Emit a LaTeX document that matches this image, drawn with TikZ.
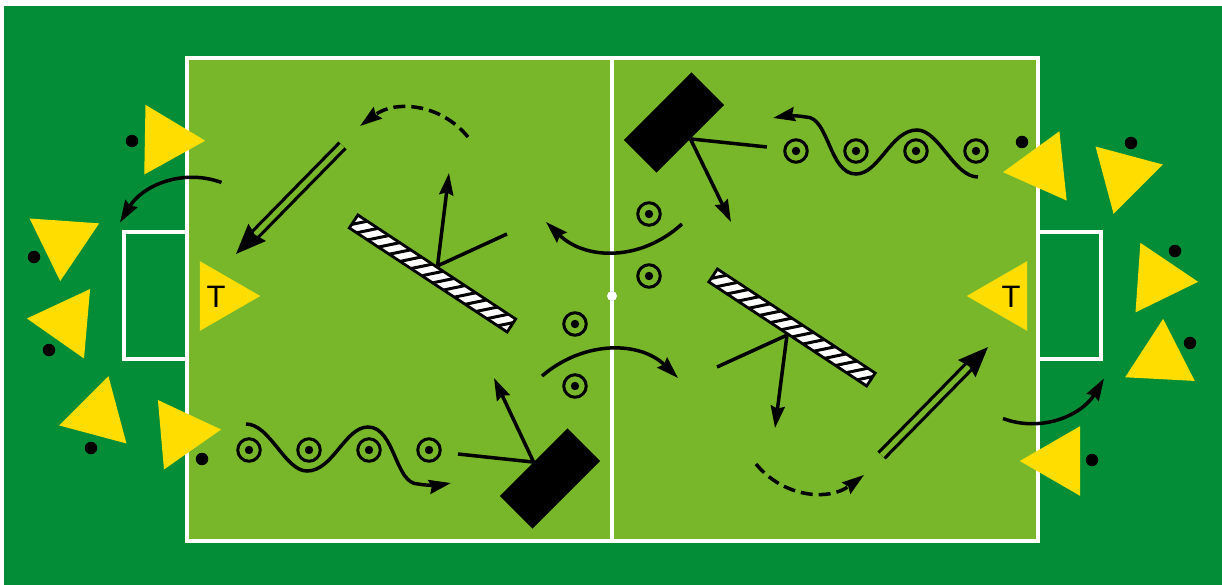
\documentclass[tikz,border=0pt]{standalone}
\usepackage{fontspec}
\setmainfont{Liberation Sans}
\usepackage{xcolor}
\usetikzlibrary{arrows.meta,positioning,shapes.geometric}

\definecolor{fieldout}{HTML}{038D37}
\definecolor{fieldin}{HTML}{78B72A}
\definecolor{shirt}{HTML}{FFDD00}

\begin{document}
\begin{tikzpicture}[
  x=1pt, y=-1pt,
  node distance=60pt, on grid,
  line/.style={white, line width=3.6pt},
  player/.style={regular polygon, regular polygon sides=3, fill=shirt,
                 inner sep=0pt, minimum size=80.5pt},
  dot/.style={circle, fill=black, inner sep=0pt, minimum size=12.5pt},
  ball/.style={circle, draw, line width=3pt, inner sep=0pt, minimum size=22.5pt,
               path picture={\fill (path picture bounding box.center) circle (4.2pt);}},
  wall/.style={rectangle, fill=black, inner sep=0pt, minimum width=95.5pt,
               minimum height=46pt, rotate=45},
  bar/.style={rectangle, draw, line width=2.8pt, fill=white, inner sep=0pt,
              minimum width=189pt, minimum height=15.5pt, rotate=-33.4,
              path picture={
                \foreach \i in {-104,-91,...,104}
                  \draw[black, line width=3pt] (\i-9,9) -- (\i+9,-9);
              }},
  arr/.style={-{Stealth[length=22pt,width=14pt,inset=2.5pt]}, line width=3.5pt},
  plain/.style={line width=3.5pt},
  darr/.style={arr, dash pattern=on 12pt off 6pt},
  dblarr/.style={-{Stealth[length=30pt,width=24pt,inset=3pt]}, line width=3.2pt,
                 double=fieldin, double distance=5pt},
]
  \useasboundingbox (0,0) rectangle (1222,585);

  % Field
  \fill[fieldout] (4,6) rectangle (1222,585);
  \fill[fieldin] (187,58) rectangle (1038,541);
  \draw[line] (187,58) rectangle (1038,541);
  \draw[line] (612,58) -- (612,541);
  \draw[line] (187,232) -- (124,232) -- (124,359) -- (187,359);
  \draw[line] (1038,232) -- (1101,232) -- (1101,359) -- (1038,359);
  \node[circle, fill=white, inner sep=0pt, minimum size=10pt] (mid) at (612,296) {};

  % Players left
  \node[player, shape border rotate=-91] (pa) at (165,140) {};
  \node[player, shape border rotate=-64] (pb) at (63,241) {};
  \node[player, shape border rotate=85] (pc) at (67,322) {};
  \node[player, shape border rotate=-15] (pd) at (98,415) {};
  \node[player, shape border rotate=-85] (pe) at (181,433) {};
  \node[player, shape border rotate=-90] (tl) at (220,296) {};
  \node[font=\fontsize{31}{31}\selectfont] (tltext) at (216,297) {T};

  % Players right
  \node[player, shape border rotate=96] (pf) at (1043,168) {};
  \node[player, shape border rotate=165] (pg) at (1124,175) {};
  \node[player, shape border rotate=-94] (ph) at (1158,279) {};
  \node[player, shape border rotate=-3] (pi) at (1161,359) {};
  \node[player, shape border rotate=90] (pj) at (1060,461) {};
  \node[player, shape border rotate=90] (tr) at (1007,296) {};
  \node[font=\fontsize{31}{31}\selectfont] (trtext) at (1011,297) {T};

  % Dots
  \node[dot] (da) at (132,141) {};
  \node[dot] (db) at (34,257) {};
  \node[dot] (dc) at (49,350) {};
  \node[dot] (dd) at (91,448) {};
  \node[dot] (de) at (202,459) {};
  \node[dot] (df) at (1022,142) {};
  \node[dot] (dg) at (1131,143) {};
  \node[dot] (dh) at (1175,251) {};
  \node[dot] (di) at (1190,343) {};
  \node[dot] (dj) at (1092,460) {};

  % Balls
  \node[ball] (b1) at (249,450) {};
  \node[ball, right=of b1] (b2) {};
  \node[ball, right=of b2] (b3) {};
  \node[ball, right=of b3] (b4) {};
  \node[ball] (b5) at (796,151) {};
  \node[ball, right=of b5] (b6) {};
  \node[ball, right=of b6] (b7) {};
  \node[ball, right=of b7] (b8) {};
  \node[ball] (b9) at (649,214) {};
  \node[ball, below=62pt of b9] (b10) {};
  \node[ball] (b11) at (575,324) {};
  \node[ball, below=62pt of b11] (b12) {};

  % Walls and bars
  \node[wall] (wlow) at (550,478.5) {};
  \node[wall] (wtop) at (674,122.5) {};
  \node[bar] (barl) at (432.5,273.5) {};
  \node[bar] (barr) at (792,327.5) {};

  % Free ends
  \coordinate (c1) at (458,454);
  \coordinate (c2) at (494,378);
  \coordinate (c3) at (767,147);
  \coordinate (c4) at (731,222);
  \coordinate (c5) at (449,173);
  \coordinate (c6) at (507,234);
  \coordinate (c7) at (775,428);
  \coordinate (c8) at (717,367);
  \coordinate (c9) at (342.5,145.5);
  \coordinate (c10) at (236,254);
  \coordinate (c11) at (881.5,455.5);
  \coordinate (c12) at (988,347);

  % Passes
  \draw[plain] (c1) -- (wlow.north);
  \draw[arr] (wlow.north) -- (c2);
  \draw[plain] (c3) -- (wtop.south);
  \draw[arr] (wtop.south) -- (c4);
  \draw[arr] (barl.north) -- (c5);
  \draw[plain] (barl.north) -- (c6);
  \draw[arr] (barr.south) -- (c7);
  \draw[plain] (barr.south) -- (c8);
  \draw[dblarr] (c9) -- (c10);
  \draw[dblarr] (c11) -- (c12);

  % Curved runs
  \draw[arr] (221.5,182.5) .. controls (182,168) and (142,186) .. (120,222.5);
  \draw[arr] (1003,418.5) .. controls (1042,433) and (1082,415) .. (1104,378.5);
  \draw[arr] (682,224) .. controls (640,262) and (585,260) .. (546,222);
  \draw[arr] (542,376) .. controls (584,340) and (640,341) .. (678,378);
  \draw[darr] (468,137) .. controls (440,103) and (395,100) .. (360,126);
  \draw[darr] (756,464) .. controls (784,498) and (829,501) .. (864,475);

  % Dribbles
  \draw[arr] (246,424) .. controls (270,424) and (285,471) .. (307,471)
    .. controls (333,471) and (345,427) .. (368,427)
    .. controls (395,427) and (395,484) .. (418,484)
    .. controls (430,486) and (440,485) .. (451,483);
  \draw[arr] (978,177) .. controls (954,177) and (939,130) .. (917,130)
    .. controls (891,130) and (879,174) .. (856,174)
    .. controls (829,174) and (829,117) .. (806,117)
    .. controls (794,115) and (784,116) .. (773,118);
\end{tikzpicture}
\end{document}
